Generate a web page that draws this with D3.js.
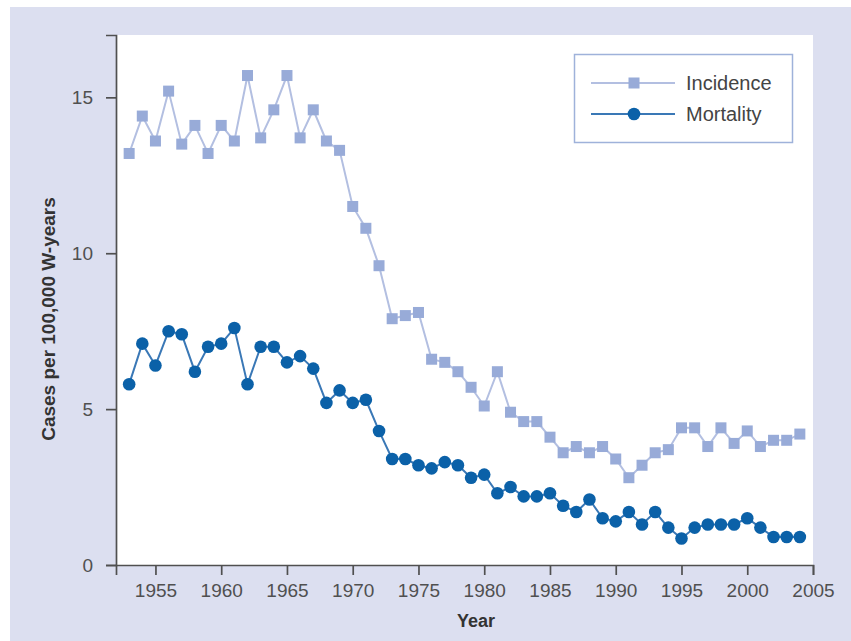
<!DOCTYPE html>
<html>
<head>
<meta charset="utf-8">
<script src="https://cdn.jsdelivr.net/npm/d3@7"></script>
<style>
  html, body { margin: 0; padding: 0; background: #fff; }
  svg { display: block; }
  .axis path, .axis line { stroke: #505050; stroke-width: 1.7; }
  .axis text { fill: #505050; font-family: "Liberation Sans", Arial, sans-serif; font-size: 19px; }
</style>
</head>
<body>
<div id="chart"></div>
<script>
(function () {
    // years 1953..2004
    var years = [1953, 1954, 1955, 1956, 1957, 1958, 1959, 1960, 1961, 1962,
        1963, 1964, 1965, 1966, 1967, 1968, 1969, 1970, 1971, 1972,
        1973, 1974, 1975, 1976, 1977, 1978, 1979, 1980, 1981, 1982,
        1983, 1984, 1985, 1986, 1987, 1988, 1989, 1990, 1991, 1992,
        1993, 1994, 1995, 1996, 1997, 1998, 1999, 2000, 2001, 2002,
        2003, 2004];

    var incidence = [13.2, 14.4, 13.6, 15.2, 13.5, 14.1, 13.2, 14.1, 13.6, 15.7,
        13.7, 14.6, 15.7, 13.7, 14.6, 13.6, 13.3, 11.5, 10.8, 9.6,
        7.9, 8.0, 8.1, 6.6, 6.5, 6.2, 5.7, 5.1, 6.2, 4.9,
        4.6, 4.6, 4.1, 3.6, 3.8, 3.6, 3.8, 3.4, 2.8, 3.2,
        3.6, 3.7, 4.4, 4.4, 3.8, 4.4, 3.9, 4.3, 3.8, 4.0,
        4.0, 4.2];

    var mortality = [5.8, 7.1, 6.4, 7.5, 7.4, 6.2, 7.0, 7.1, 7.6, 5.8,
        7.0, 7.0, 6.5, 6.7, 6.3, 5.2, 5.6, 5.2, 5.3, 4.3,
        3.4, 3.4, 3.2, 3.1, 3.3, 3.2, 2.8, 2.9, 2.3, 2.5,
        2.2, 2.2, 2.3, 1.9, 1.7, 2.1, 1.5, 1.4, 1.7, 1.3,
        1.7, 1.2, 0.85, 1.2, 1.3, 1.3, 1.3, 1.5, 1.2, 0.9,
        0.9, 0.9];

    var xTicks = [1955, 1960, 1965, 1970, 1975, 1980, 1985, 1990, 1995, 2000, 2005];
    var yTicks = [0, 5, 10, 15];
    var seriesNames = ["Incidence", "Mortality"];

    var W = 851, H = 641;
    var plot = {left: 116, top: 35, right: 813, bottom: 565};

    var svg = d3.select("#chart").append("svg")
        .attr("width", W)
        .attr("height", H);

    // lavender frame
    svg.append("rect")
        .attr("x", 10).attr("y", 7)
        .attr("width", W - 10).attr("height", H - 7)
        .attr("fill", "#dcdff0");

    svg.append("rect")
        .attr("x", plot.left).attr("y", plot.top)
        .attr("width", plot.right - plot.left).attr("height", plot.bottom - plot.top)
        .attr("fill", "#fff");

    var x = d3.scaleLinear().domain([1952, 2005]).range([plot.left, plot.right]);
    var y = d3.scaleLinear().domain([0, 17]).range([plot.bottom, plot.top]);

    // axes
    svg.append("g")
        .attr("class", "axis")
        .attr("transform", "translate(0," + plot.bottom + ")")
        .call(d3.axisBottom(x).tickValues(xTicks).tickFormat(d3.format("d"))
            .tickSize(10).tickSizeOuter(10).tickPadding(9));

    svg.append("g")
        .attr("class", "axis")
        .attr("transform", "translate(" + plot.left + ",0)")
        .call(d3.axisLeft(y).tickValues(yTicks).tickSize(10).tickSizeOuter(10).tickPadding(13));

    // axis titles
    svg.append("text")
        .attr("x", 476).attr("y", 627)
        .attr("text-anchor", "middle")
        .style("font-family", "Liberation Sans, Arial, sans-serif")
        .style("font-size", "18px").style("font-weight", "bold")
        .attr("fill", "#333")
        .text("Year");

    svg.append("text")
        .attr("transform", "translate(55,319) rotate(-90)")
        .attr("text-anchor", "middle")
        .style("font-family", "Liberation Sans, Arial, sans-serif")
        .style("font-size", "19px").style("font-weight", "bold")
        .attr("fill", "#333")
        .text("Cases per 100,000 W-years");

    var line = d3.line()
        .x(function (d, i) { return x(years[i]); })
        .y(function (d) { return y(d); });

    // incidence
    svg.append("path")
        .datum(incidence)
        .attr("d", line)
        .attr("fill", "none")
        .attr("stroke", "#b3bfe1")
        .attr("stroke-width", 2);

    var sq = 11;
    svg.append("g").selectAll("rect")
        .data(incidence)
        .enter().append("rect")
        .attr("x", function (d, i) { return x(years[i]) - sq / 2; })
        .attr("y", function (d) { return y(d) - sq / 2; })
        .attr("width", sq).attr("height", sq)
        .attr("fill", "#98abd8");

    // mortality
    svg.append("path")
        .datum(mortality)
        .attr("d", line)
        .attr("fill", "none")
        .attr("stroke", "#3a78b6")
        .attr("stroke-width", 2);

    svg.append("g").selectAll("circle")
        .data(mortality)
        .enter().append("circle")
        .attr("cx", function (d, i) { return x(years[i]); })
        .attr("cy", function (d) { return y(d); })
        .attr("r", 6.3)
        .attr("fill", "#0b61a8");

    // legend
    var lg = svg.append("g");
    lg.append("rect")
        .attr("x", 574.5).attr("y", 54.5)
        .attr("width", 218).attr("height", 88)
        .attr("fill", "#fff")
        .attr("stroke", "#9fb2da").attr("stroke-width", 1.5);

    var rows = [
        {name: seriesNames[0], y: 83, line: "#b3bfe1", mark: "#98abd8", shape: "square"},
        {name: seriesNames[1], y: 114, line: "#3a78b6", mark: "#0b61a8", shape: "circle"}
    ];
    rows.forEach(function (r) {
        lg.append("line")
            .attr("x1", 591).attr("x2", 675)
            .attr("y1", r.y).attr("y2", r.y)
            .attr("stroke", r.line).attr("stroke-width", 2);
        if (r.shape === "square") {
            lg.append("rect")
                .attr("x", 634 - sq / 2).attr("y", r.y - sq / 2)
                .attr("width", sq).attr("height", sq)
                .attr("fill", r.mark);
        } else {
            lg.append("circle")
                .attr("cx", 634).attr("cy", r.y).attr("r", 6.3)
                .attr("fill", r.mark);
        }
        lg.append("text")
            .attr("x", 686).attr("y", r.y + 7)
            .style("font-family", "Liberation Sans, Arial, sans-serif")
            .style("font-size", "20px")
            .attr("fill", "#444")
            .text(r.name);
    });
})();
</script>
</body>
</html>
